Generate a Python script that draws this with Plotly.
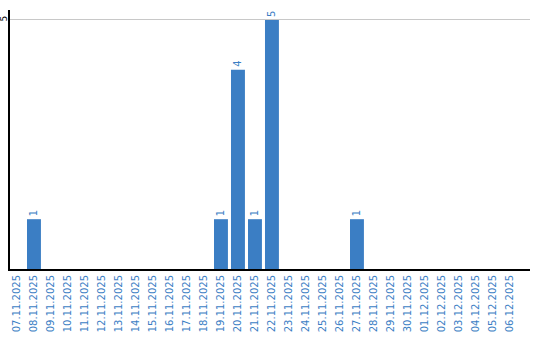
import plotly.graph_objects as go

dates = ["07.11.2025", "08.11.2025", "09.11.2025", "10.11.2025", "11.11.2025",
         "12.11.2025", "13.11.2025", "14.11.2025", "15.11.2025", "16.11.2025",
         "17.11.2025", "18.11.2025", "19.11.2025", "20.11.2025", "21.11.2025",
         "22.11.2025", "23.11.2025", "24.11.2025", "25.11.2025", "26.11.2025",
         "27.11.2025", "28.11.2025", "29.11.2025", "30.11.2025", "01.12.2025",
         "02.12.2025", "03.12.2025", "04.12.2025", "05.12.2025", "06.12.2025"]
counts = [0, 1, 0, 0, 0, 0, 0, 0, 0, 0, 0, 0, 1, 4, 1, 5, 0, 0, 0, 0,
          1, 0, 0, 0, 0, 0, 0, 0, 0, 0]
labels = [str(c) if c else "" for c in counts]

blue = "#3b7ec4"
fig = go.Figure(go.Bar(
    x=dates, y=counts, marker_color=blue, marker_line_width=0,
    text=labels, textposition="outside", textangle=-90,
    textfont=dict(family="DejaVu Sans", size=10, color=blue),
    cliponaxis=False,
))
fig.update_layout(
    width=540, height=340,
    margin=dict(l=10, r=10, t=10, b=71),
    paper_bgcolor="white", plot_bgcolor="white",
    bargap=0.18, showlegend=False,
    font=dict(family="DejaVu Sans", size=10),
)
fig.update_xaxes(
    type="category", range=[-0.41, 30.18], tickangle=-90,
    tickfont=dict(family="DejaVu Sans", size=10, color=blue),
    showline=True, linecolor="black", linewidth=2, showgrid=False,
    ticks="", ticklen=0, automargin=False,
)
fig.update_yaxes(
    range=[0, 5.2], tickvals=[5], ticktext=["5"], tickangle=-90,
    tickfont=dict(family="DejaVu Sans", size=9, color="black"),
    showline=True, linecolor="black", linewidth=2,
    showgrid=True, gridcolor="#c8c8c8", gridwidth=1, zeroline=False,
    ticks="", automargin=False, ticklabelstandoff=-3,
)
fig.write_html("out.html")
